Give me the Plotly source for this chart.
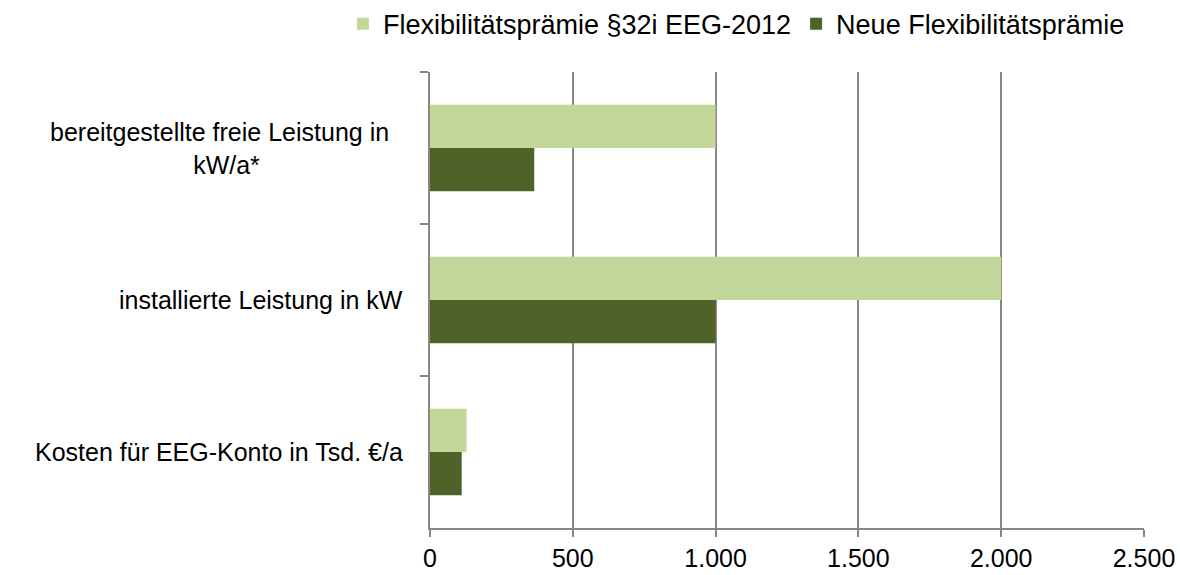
import plotly.graph_objects as go

# Categories (top to bottom) and values per scheme
categories = [
    "bereitgestellte freie Leistung in kW/a*",
    "installierte Leistung in kW",
    "Kosten für EEG-Konto in Tsd. €/a",
]
category_labels = [
    "bereitgestellte freie Leistung in\u00a0\u00a0<br>kW/a*",
    "installierte Leistung in kW",
    "Kosten für EEG-Konto in Tsd. €/a",
]
series_names = ["Flexibilitätsprämie §32i EEG-2012", "Neue Flexibilitätsprämie"]
values_old = [1000, 2000, 128]
values_new = [365, 1000, 111]

x_ticks = [0, 500, 1000, 1500, 2000, 2500]
x_tick_text = ["0", "500", "1.000", "1.500", "2.000", "2.500"]

LIGHT = "#C4D79B"
DARK = "#4F6228"
GRID = "#878787"
FONT = "Liberation Sans, Arial, sans-serif"

fig = go.Figure()
fig.add_trace(go.Bar(
    y=categories, x=values_old, name=series_names[0], orientation="h",
    marker=dict(color=LIGHT, line=dict(width=0)),
))
fig.add_trace(go.Bar(
    y=categories, x=values_new, name=series_names[1], orientation="h",
    marker=dict(color=DARK, line=dict(width=0)),
))

fig.update_layout(
    width=1180, height=575,
    margin=dict(l=430, r=36, t=72, b=47, autoexpand=False),
    paper_bgcolor="white", plot_bgcolor="white",
    barmode="group", bargap=0.43, bargroupgap=0,
    font=dict(family=FONT, color="#000000"),
    legend=dict(
        orientation="h",
        x=-0.122, xanchor="left", y=1.105, yanchor="middle",
        font=dict(size=27, family=FONT), itemwidth=30,
        traceorder="normal",
    ),
    xaxis=dict(
        range=[0, 2500], tickvals=x_ticks, ticktext=x_tick_text,
        showgrid=True, gridcolor=GRID, gridwidth=1.5,
        showline=True, linecolor=GRID, linewidth=2,
        ticks="outside", ticklen=7, tickcolor=GRID, tickwidth=2,
        tickfont=dict(size=25, family=FONT), zeroline=False,
        automargin=False,
    ),
    yaxis=dict(
        categoryorder="array", categoryarray=categories,
        autorange="reversed",
        showticklabels=False, showgrid=False, zeroline=False,
        showline=True, linecolor=GRID, linewidth=2,
        ticks="outside", tickson="boundaries", ticklen=8,
        tickcolor=GRID, tickwidth=2, automargin=False,
    ),
)

for cat, label in zip(categories, category_labels):
    fig.add_annotation(
        xref="paper", yref="y", x=0, y=cat, xshift=-25,
        xanchor="right", yanchor="middle", align="center",
        text=label, showarrow=False,
        font=dict(size=25, family=FONT, color="#000000"),
    )

fig.write_html("out.html")
